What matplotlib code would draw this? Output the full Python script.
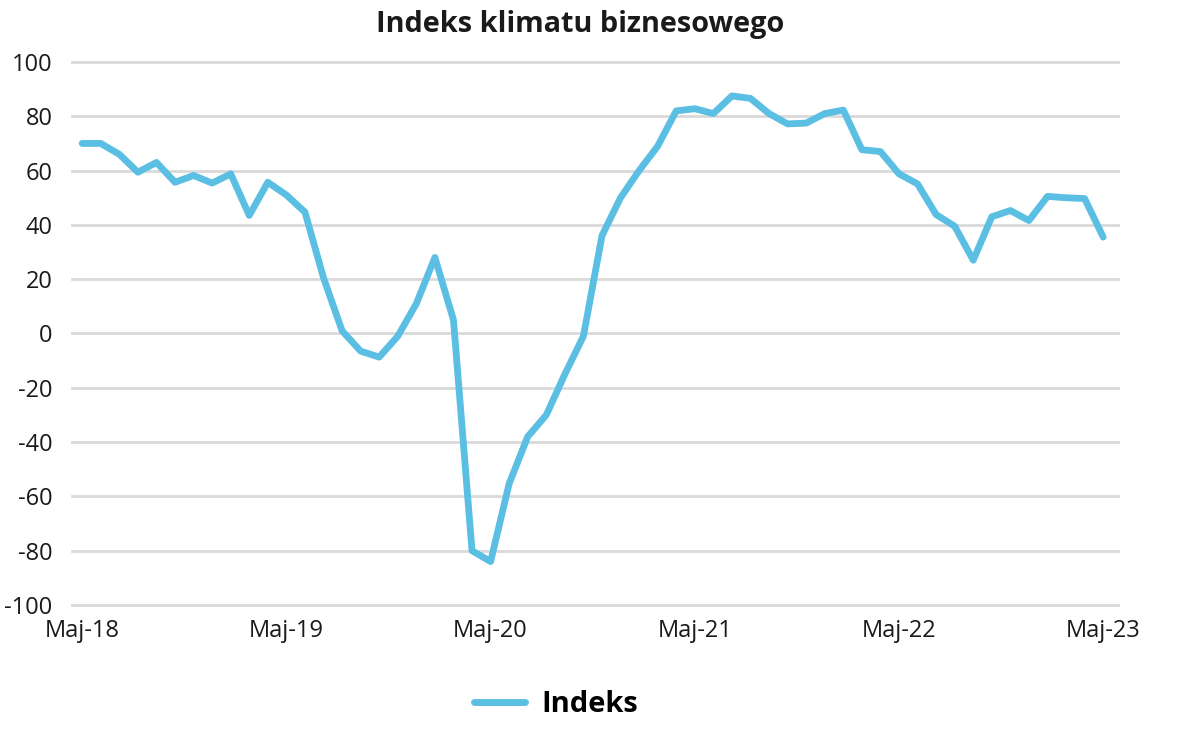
import matplotlib
matplotlib.use("Agg")
import matplotlib.pyplot as plt
from matplotlib.lines import Line2D

title = "Indeks klimatu biznesowego"
series_name = "Indeks"
tick_labels = ["Maj-18", "Maj-19", "Maj-20", "Maj-21", "Maj-22", "Maj-23"]
tick_every = 11

values = [
    70, 70, 66, 59.4, 63, 55.7, 58.2, 55.4, 58.8, 43.5, 55.7,
    51, 44.7, 20.5, 1, -6.5, -8.7, -1, 11, 28, 5, -80,
    -84, -55.3, -38, -30, -15, -1, 36, 50, 60, 69, 82,
    82.8, 81, 87.5, 86.6, 81, 77.2, 77.5, 81, 82.3, 67.7, 67,
    58.8, 55.1, 43.8, 39.5, 27, 43, 45.3, 41.6, 50.5, 50, 49.7,
    35.5,
]
y_ticks = [100, 80, 60, 40, 20, 0, -20, -40, -60, -80, -100]

line_color = "#5BBFE3"
grid_color = "#D9D9D9"
text_color = "#1A1A1A"

fig = plt.figure(figsize=(11.8, 7.32), dpi=100)
ax = fig.add_axes([0.061, 0.1735, 0.8865, 0.7418])

x = list(range(len(values)))
ax.plot(x, values, color=line_color, lw=4.9, solid_joinstyle="round",
        solid_capstyle="round", zorder=3)

ax.set_ylim(-100, 100)
ax.set_xlim(-0.55, len(values) - 1 + 0.8)
ax.set_yticks(y_ticks)
ax.set_yticklabels([str(v) for v in y_ticks], fontsize=17, color=text_color,
                   family="Open Sans")
tick_pos = list(range(0, len(values), tick_every))
ax.set_xticks(tick_pos)
ax.set_xticklabels(tick_labels, fontsize=17, color=text_color, family="Open Sans")
ax.tick_params(axis="y", length=0, pad=14)
ax.tick_params(axis="x", length=0, pad=10)
for s in ax.spines.values():
    s.set_visible(False)
ax.yaxis.grid(True, color=grid_color, lw=2, zorder=0)
for gl in ax.get_ygridlines():
    gl.set_clip_on(False)
ax.set_axisbelow(True)

fig.text(0.4915, 0.966, title, ha="center", va="center", fontsize=20.8,
         fontweight="bold", color=text_color, family="Open Sans")

handle = Line2D([], [], color=line_color, lw=5, solid_capstyle="round")
fig.legend([handle], [series_name], loc="center", bbox_to_anchor=(0.471, 0.037),
           frameon=False, prop={"family": "Open Sans", "weight": "bold", "size": 21},
           handlelength=1.75, handletextpad=0.55)

fig.savefig("out.png", dpi=100, facecolor="white")
